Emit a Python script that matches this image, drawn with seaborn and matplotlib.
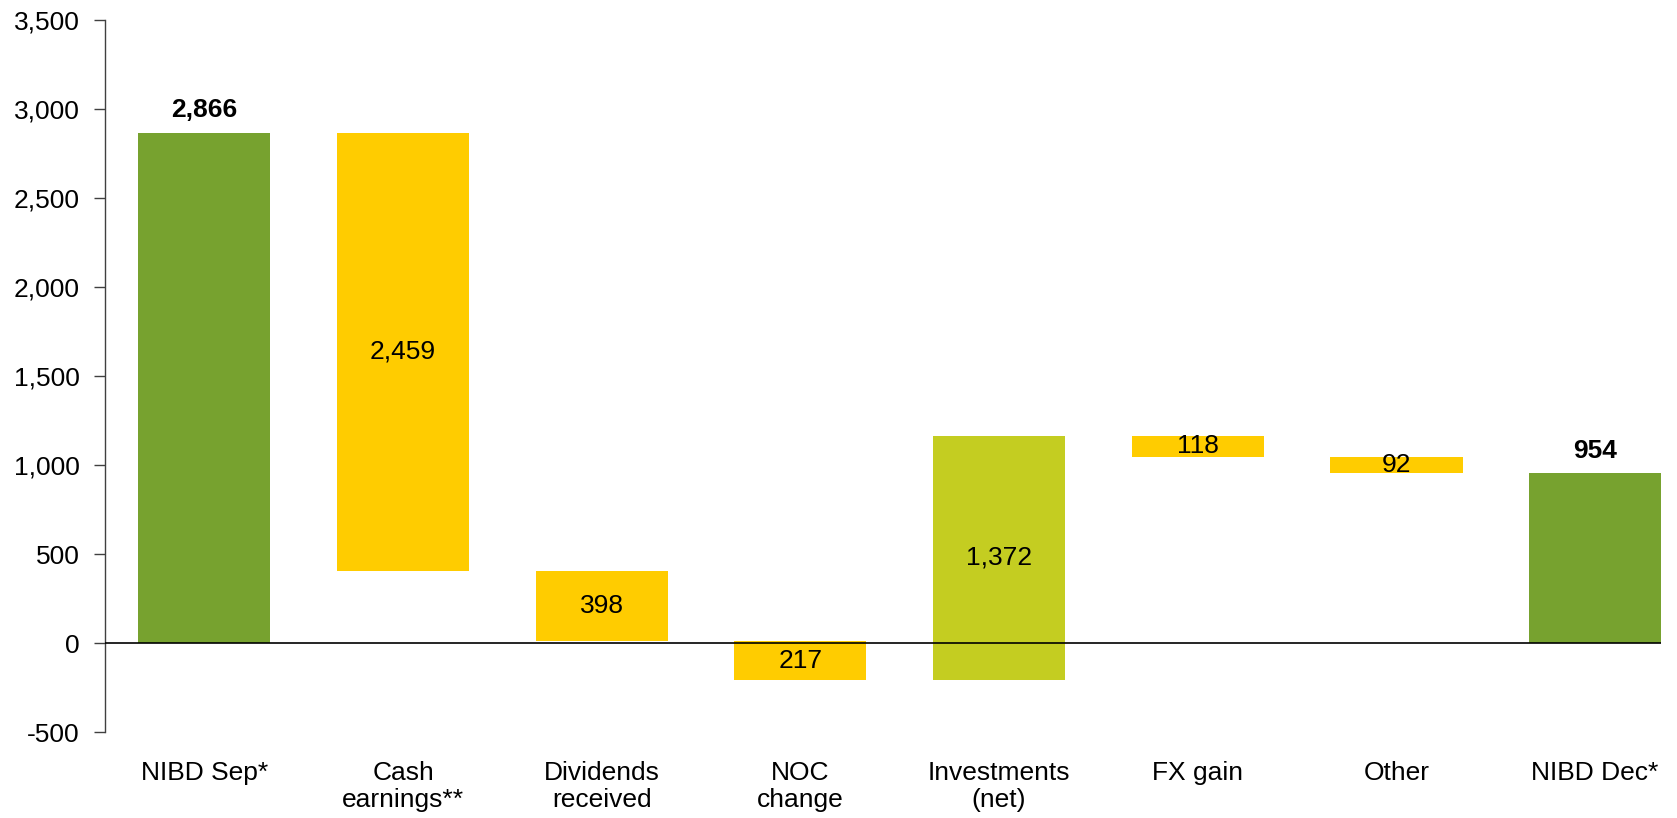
import matplotlib
matplotlib.use("Agg")
import matplotlib.pyplot as plt
import seaborn as sns
import numpy as np
import pandas as pd

# waterfall data
categories = ["NIBD Sep*", "Cash\nearnings**", "Dividends\nreceived", "NOC\nchange",
              "Investments\n(net)", "FX gain", "Other", "NIBD Dec*"]
values = [2866, -2459, -398, -217, 1372, -118, -92, 954]
kinds = ["total", "delta", "delta", "delta", "delta", "delta", "delta", "total"]
labels = ["2,866", "2,459", "398", "217", "1,372", "118", "92", "954"]
kind_colors = {"total": "#77A22F", "delta": "#FFCC00", "invest": "#C4CD21"}

# running bottoms/heights for the floating bars
bottoms, heights = [], []
level = 0
for v, k in zip(values, kinds):
    if k == "total":
        bottoms.append(0)
        heights.append(v)
        level = v
    else:
        bottoms.append(level)
        heights.append(v)
        level = level + v

df = pd.DataFrame({"cat": categories, "height": heights, "bottom": bottoms})

sns.set_style("white")
plt.rcParams["font.family"] = ["Liberation Sans", "DejaVu Sans"]
plt.rcParams["text.color"] = "black"
plt.rcParams["xtick.color"] = "black"
plt.rcParams["ytick.color"] = "black"

fig = plt.figure(figsize=(16.77, 8.18), dpi=100)
ax = fig.add_axes([0.0626, 0.105, 0.928, 0.8706])

bar_w = 0.665
sns.barplot(data=df, x="cat", y="height", bottom=df["bottom"].values, width=bar_w,
            color=kind_colors["delta"], ax=ax, saturation=1)

for i, p in enumerate(ax.patches):
    if kinds[i] == "total":
        p.set_facecolor(kind_colors["total"])
    elif categories[i].startswith("Investments"):
        p.set_facecolor(kind_colors["invest"])
    p.set_edgecolor("none")

# value labels
for i, (b, h) in enumerate(zip(bottoms, heights)):
    if kinds[i] == "total":
        ax.text(i, b + h + 60, labels[i], ha="center", va="bottom",
                fontsize=19, fontweight="bold", color="black")
    else:
        ax.text(i, b + h / 2, labels[i], ha="center", va="center",
                fontsize=19, color="black")

ax.axhline(0, color="black", lw=1.2, zorder=5)
ax.set_ylim(-500, 3500)
# plot area ends at the right edge of the last bar
ax.set_xlim(-0.5, len(categories) - 1 + bar_w / 2)
ax.set_yticks(np.arange(-500, 3501, 500))
ax.set_yticklabels([f"{t:,}" for t in range(-500, 3501, 500)])
ax.set_xlabel("")
ax.set_ylabel("")

for s in ["top", "right", "bottom"]:
    ax.spines[s].set_visible(False)
ax.spines["left"].set_color("#404040")
ax.spines["left"].set_linewidth(1)
ax.tick_params(axis="y", left=True, length=8, width=1, color="#404040",
               labelcolor="black", labelsize=19, pad=10)
ax.tick_params(axis="x", bottom=False, labelcolor="black", labelsize=19, pad=17)

fig.savefig("out.png", dpi=100)
